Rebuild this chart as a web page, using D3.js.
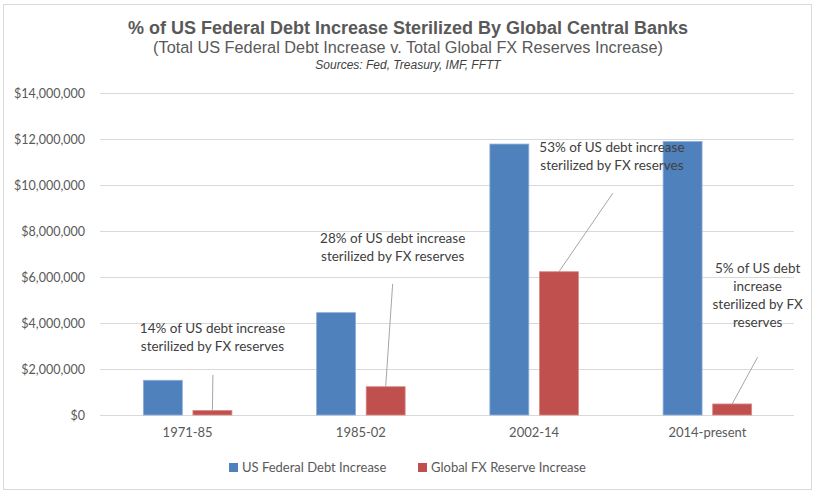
<!DOCTYPE html>
<html>
<head>
<meta charset="utf-8">
<script src="https://cdn.jsdelivr.net/npm/d3@7"></script>
<style>
  body { margin: 0; background: #fff; }
  svg text { font-family: Lato, "Open Sans", sans-serif; }
  .head { font-family: "Liberation Sans Narrow", "Arial Narrow", "Liberation Sans", sans-serif !important; fill: #595959; }
</style>
</head>
<body>
<div id="chart"></div>
<script>
// Chart data
const categories = ["1971-85", "1985-02", "2002-14", "2014-present"];
const seriesNames = ["US Federal Debt Increase", "Global FX Reserve Increase"];
const debtIncrease = [1510000, 4450000, 11780000, 11890000];
const fxIncrease = [200000, 1230000, 6230000, 480000];
const yTicks = [0, 2000000, 4000000, 6000000, 8000000, 10000000, 12000000, 14000000];
const noteTexts = [
  ["14% of US debt increase", "sterilized by FX reserves"],
  ["28% of US debt increase", "sterilized by FX reserves"],
  ["53% of US debt increase", "sterilized by FX reserves"],
  ["5% of US debt", "increase", "sterilized by FX", "reserves"]
];
// where each note sits, in data units (text top line value, leader start value)
const noteTextValue = [3780000, 7700000, 11670000, 6390000];
const noteLeaderValue = [1740000, 5700000, 9650000, 2520000];

const colors = ["#4F81BD", "#C0504D"];

const width = 817, height = 494;
const margin = { left: 101, right: 23, top: 93, bottom: 79 };

const svg = d3.select("#chart").append("svg")
    .attr("width", width)
    .attr("height", height);

// outer frame
svg.append("rect")
    .attr("x", 3.5).attr("y", 4.5)
    .attr("width", 808).attr("height", 485)
    .attr("fill", "none")
    .attr("stroke", "#d9d9d9");

// titles
svg.append("text").attr("class", "head")
    .attr("x", 408).attr("y", 34)
    .attr("text-anchor", "middle")
    .style("font-size", "18px").style("font-weight", "bold")
    .text("% of US Federal Debt Increase Sterilized By Global Central Banks");
svg.append("text").attr("class", "head")
    .attr("x", 408).attr("y", 53)
    .attr("text-anchor", "middle")
    .style("font-size", "16.3px")
    .text("(Total US Federal Debt Increase v. Total Global FX Reserves Increase)");
svg.append("text").attr("class", "head")
    .attr("x", 408).attr("y", 69)
    .attr("text-anchor", "middle")
    .style("font-size", "12px").style("font-style", "italic")
    .style("fill", "#404040")
    .text("Sources: Fed, Treasury, IMF, FFTT");

// scales
const x0 = d3.scaleBand()
    .domain(categories)
    .range([margin.left, width - margin.right])
    .paddingInner(0.489)
    .paddingOuter(0.2445);

const x1 = d3.scaleBand()
    .domain(seriesNames)
    .range([0, x0.bandwidth()])
    .paddingInner(0.214);

const y = d3.scaleLinear()
    .domain([0, 14000000])
    .range([height - margin.bottom, margin.top]);

// gridlines
svg.append("g")
    .selectAll("line")
    .data(yTicks)
    .enter().append("line")
    .attr("x1", margin.left - 1)
    .attr("x2", width - margin.right)
    .attr("y1", d => Math.round(y(d)) + 0.5)
    .attr("y2", d => Math.round(y(d)) + 0.5)
    .attr("stroke", "#d9d9d9")
    .attr("stroke-width", 1);

// y axis labels
const fmt = d3.format("$,");
const yAxis = d3.axisLeft(y)
    .tickValues(yTicks)
    .tickFormat(d => fmt(d))
    .tickSize(0)
    .tickPadding(16);
const gy = svg.append("g")
    .attr("transform", `translate(${margin.left},0)`)
    .call(yAxis);
gy.select(".domain").remove();
gy.selectAll("text")
    .style("font-size", "12.5px")
    .style("fill", "#595959")
    .style("font-family", "Lato, 'Open Sans', sans-serif");

// x axis labels
const xAxis = d3.axisBottom(x0).tickSize(0).tickPadding(13);
const gx = svg.append("g")
    .attr("transform", `translate(0,${y(0)})`)
    .call(xAxis);
gx.select(".domain").remove();
gx.selectAll("text")
    .style("font-size", "13px")
    .style("fill", "#595959")
    .style("font-family", "Lato, 'Open Sans', sans-serif");

// bars
const rows = categories.map((c, i) => ({ cat: c, values: [debtIncrease[i], fxIncrease[i]] }));

const groups = svg.append("g")
    .selectAll("g")
    .data(rows)
    .enter().append("g")
    .attr("transform", d => `translate(${x0(d.cat)},0)`);

groups.selectAll("rect")
    .data(d => d.values.map((v, j) => ({ name: seriesNames[j], value: v, j })))
    .enter().append("rect")
    .attr("x", d => x1(d.name))
    .attr("y", d => y(d.value))
    .attr("width", x1.bandwidth())
    .attr("height", d => y(0) - y(d.value))
    .attr("fill", d => colors[d.j])
    .attr("stroke", d => d.j === 0 ? "#8eaedb" : "#d98a88")
    .attr("stroke-width", 0.8);

// notes
const noteTextDx = [0, 7, 53, 25.5];
const noteLeaderDx = [0.5, 7, 54, 25.5];
const redX = i => x0(categories[i]) + x1(seriesNames[1]) + x1.bandwidth() / 2;

categories.forEach((c, i) => {
    const cx = redX(i);
    svg.append("line")
        .attr("x1", cx + noteLeaderDx[i])
        .attr("y1", y(noteLeaderValue[i]))
        .attr("x2", cx)
        .attr("y2", y(fxIncrease[i]))
        .attr("stroke", "#a6a6a6")
        .attr("stroke-width", 1);

    const t = svg.append("text")
        .attr("text-anchor", "middle")
        .attr("y", y(noteTextValue[i]) + 5)
        .style("font-size", "13.5px")
        .style("fill", "#404040");
    noteTexts[i].forEach((line, k) => {
        t.append("tspan")
            .attr("x", cx + noteTextDx[i])
            .attr("dy", k === 0 ? 0 : 18)
            .text(line);
    });
});

// legend
const legendX = [229, 418];
const legend = svg.append("g")
    .selectAll("g")
    .data(seriesNames)
    .enter().append("g")
    .attr("transform", (d, i) => `translate(${legendX[i]},463)`);
legend.append("rect")
    .attr("width", 9).attr("height", 9)
    .attr("fill", (d, i) => colors[i]);
legend.append("text")
    .attr("x", 13).attr("y", 9)
    .style("font-size", "13px")
    .style("fill", "#595959")
    .text(d => d);
</script>
</body>
</html>
